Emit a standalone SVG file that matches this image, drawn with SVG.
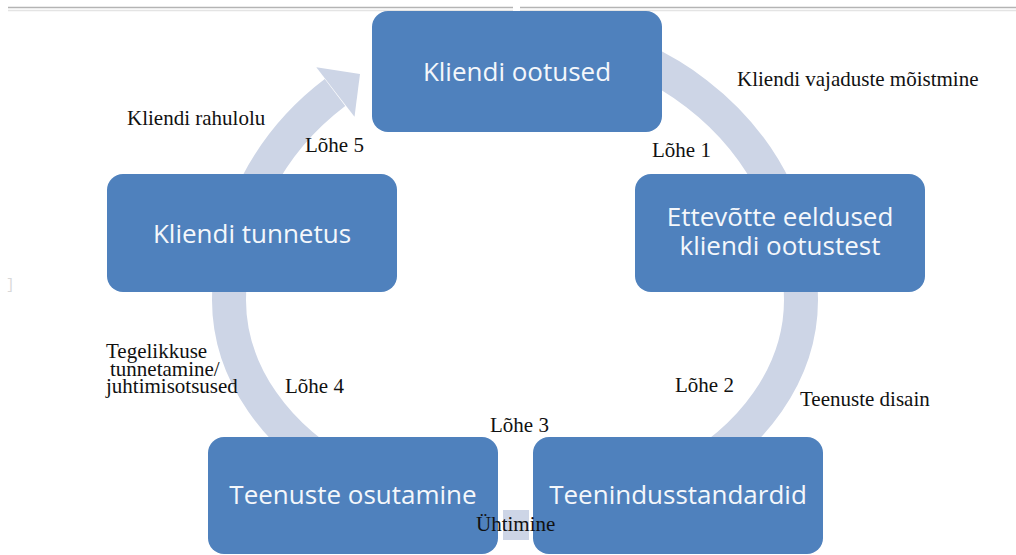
<svg xmlns="http://www.w3.org/2000/svg" width="1016" height="555" viewBox="0 0 1016 555">
  <style>
    .box { fill: #4F81BD; }
    .boxtxt { font-family: "Open Sans", "Liberation Sans", sans-serif; font-size: 26px; fill: #F4F7FB; text-anchor: middle; }
    .lbl { font-family: "Liberation Serif", "Times New Roman", serif; font-size: 21px; fill: #111111; }
    .band { fill: none; stroke: #CDD5E6; stroke-width: 34; }
    .bandfill { fill: #CDD5E6; }
  </style>
  <rect x="0" y="0" width="1016" height="555" fill="#FFFFFF"/>
  <g id="frame">
    <line x1="8" y1="7.5" x2="1016" y2="7.5" stroke="#B4B4B4" stroke-width="1.5"/>
    <line x1="8" y1="10.5" x2="1016" y2="10.5" stroke="#E4E4E4" stroke-width="1.5"/>
    <text x="6" y="289" font-family="Liberation Mono, monospace" font-size="14" fill="#D8D8D8">]</text>
  </g>
  <g id="connectors">
    <path class="band" d="M 460 38 A 286 267 0 0 1 801 300 A 286 218 0 0 1 676 480"/>
    <path class="band" d="M 354 480 A 286 218 0 0 1 229 300 A 286 267 0 0 1 335 92.5"/>
    <polygon class="bandfill" points="316.3,67.3 360,74 354.5,116.7"/>
    <rect class="bandfill" x="503" y="510" width="26" height="30"/>
  </g>
  <rect x="513" y="3" width="7" height="9" fill="#FFFFFF"/>
  <g id="node-kliendi-ootused">
    <rect class="box" x="372" y="11" width="290" height="121" rx="16"/>
    <text class="boxtxt" x="517" y="81">Kliendi ootused</text>
  </g>
  <g id="node-ettevotte-eeldused">
    <rect class="box" x="635" y="174" width="290" height="118" rx="16"/>
    <text class="boxtxt" x="780" y="226">Ettevõtte eeldused<tspan x="780" dy="29">kliendi ootustest</tspan></text>
  </g>
  <g id="node-kliendi-tunnetus">
    <rect class="box" x="107" y="174" width="290" height="118" rx="16"/>
    <text class="boxtxt" x="252" y="243">Kliendi tunnetus</text>
  </g>
  <g id="node-teenuste-osutamine">
    <rect class="box" x="208" y="437" width="290" height="117" rx="16"/>
    <text class="boxtxt" x="353" y="504">Teenuste osutamine</text>
  </g>
  <g id="node-teenindusstandardid">
    <rect class="box" x="533" y="437" width="290" height="117" rx="16"/>
    <text class="boxtxt" x="678" y="504">Teenindusstandardid</text>
  </g>
  <g id="labels">
    <text class="lbl" x="737" y="86">Kliendi vajaduste mõistmine</text>
    <text class="lbl" x="652" y="157">Lõhe 1</text>
    <text class="lbl" x="127" y="125">Kliendi rahulolu</text>
    <text class="lbl" x="305" y="152">Lõhe 5</text>
    <text class="lbl" x="106" y="358">Tegelikkuse<tspan x="110" dy="17.5">tunnetamine/</tspan><tspan x="106" dy="17.5">juhtimisotsused</tspan></text>
    <text class="lbl" x="285" y="393">Lõhe 4</text>
    <text class="lbl" x="675" y="392">Lõhe 2</text>
    <text class="lbl" x="800" y="406">Teenuste disain</text>
    <text class="lbl" x="490" y="432">Lõhe 3</text>
    <text class="lbl" x="476" y="531">Ühtimine</text>
  </g>
</svg>
